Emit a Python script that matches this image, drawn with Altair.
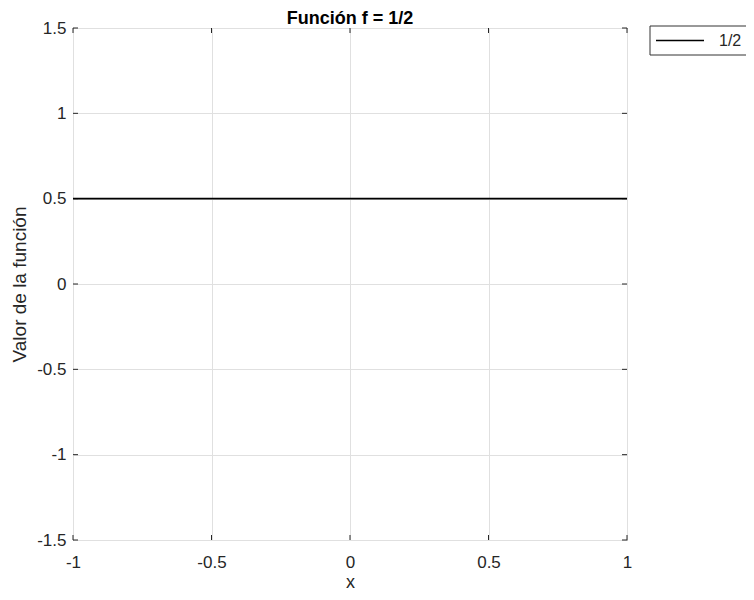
import altair as alt
import pandas as pd

# Data
x_vals = [-1.0, 1.0]
y_vals = [0.5, 0.5]
series = ["1/2", "1/2"]
x_ticks = [-1, -0.5, 0, 0.5, 1]
y_ticks = [-1.5, -1, -0.5, 0, 0.5, 1, 1.5]
legend_names = ["1/2"]
title_text = ["Función f = 1/2"]

df = pd.DataFrame({"x": x_vals, "y": y_vals, "s": series})
xt = pd.DataFrame({"v": x_ticks})
yt = pd.DataFrame({"v": y_ticks})
lg = pd.DataFrame({"s": legend_names})
tt = pd.DataFrame({"t": title_text})

W, H = 554, 512
FONT = "Liberation Sans"
TXT = "#262626"

xscale = alt.Scale(domain=[-1, 1], nice=False, zero=False)
yscale = alt.Scale(domain=[-1.5, 1.5], nice=False, zero=False)

xaxis = alt.Axis(values=x_ticks, labelExpr="datum.value + ''", title="x",
                 grid=True, gridColor="#e0e0e0", ticks=False, domain=False,
                 labelFlush=False, labelOverlap=False,
                 labelFontSize=17, labelColor=TXT, labelPadding=14,
                 titleFontSize=18, titleFontWeight="normal", titleColor=TXT,
                 titlePadding=3, labelFont=FONT, titleFont=FONT)
yaxis = alt.Axis(values=y_ticks, labelExpr="datum.value + ''", title="Valor de la función",
                 grid=True, gridColor="#e0e0e0", ticks=False, domain=False,
                 labelFlush=False, labelOverlap=False,
                 labelFontSize=17, labelColor=TXT, labelPadding=7,
                 titleFontSize=19, titleFontWeight="normal", titleColor=TXT,
                 titlePadding=7, labelFont=FONT, titleFont=FONT)

line = alt.Chart(df).mark_line(strokeWidth=1.6, color="#000000").encode(
    x=alt.X("x:Q", scale=xscale, axis=xaxis),
    y=alt.Y("y:Q", scale=yscale, axis=yaxis),
    detail="s:N",
)

tick_len = 5
xtick_bottom = alt.Chart(xt).mark_rule(color=TXT, strokeWidth=1).encode(
    x=alt.X("v:Q", scale=xscale), y=alt.value(H), y2=alt.value(H - tick_len))
xtick_top = alt.Chart(xt).mark_rule(color=TXT, strokeWidth=1).encode(
    x=alt.X("v:Q", scale=xscale), y=alt.value(0), y2=alt.value(tick_len))
ytick_left = alt.Chart(yt).mark_rule(color=TXT, strokeWidth=1).encode(
    y=alt.Y("v:Q", scale=yscale), x=alt.value(0), x2=alt.value(tick_len))
ytick_right = alt.Chart(yt).mark_rule(color=TXT, strokeWidth=1).encode(
    y=alt.Y("v:Q", scale=yscale), x=alt.value(W), x2=alt.value(W - tick_len))

# Title (bold, centred over the plot)
title = alt.Chart(tt).mark_text(align="center", baseline="alphabetic", fontSize=18,
                                fontWeight="bold", font=FONT, color="#000000").encode(
    x=alt.value(W / 2), y=alt.value(-4), text="t:N")

# Legend (boxed, outside the plot on the right)
leg_box = alt.Chart(lg).mark_rect(fill="white", stroke="#333333", strokeWidth=1).encode(
    x=alt.value(577), x2=alt.value(678), y=alt.value(-2), y2=alt.value(27))
leg_line = alt.Chart(lg).mark_rule(color="#000000", strokeWidth=1.6).encode(
    x=alt.value(583), x2=alt.value(631), y=alt.value(12.5))
leg_text = alt.Chart(lg).mark_text(align="left", baseline="middle", fontSize=16,
                                   font=FONT, color=TXT).encode(
    x=alt.value(646), y=alt.value(13), text="s:N")

chart = alt.layer(xtick_bottom, xtick_top, ytick_left, ytick_right, line,
                  leg_box, leg_line, leg_text, title).properties(
    width=W, height=H,
    autosize=alt.AutoSizeParams(type="none"),
    padding={"left": 65, "top": 20, "right": 119, "bottom": 52},
).configure_view(stroke=TXT, strokeWidth=1)

chart.save("out.html", embed_options={"renderer": "svg", "actions": False})
